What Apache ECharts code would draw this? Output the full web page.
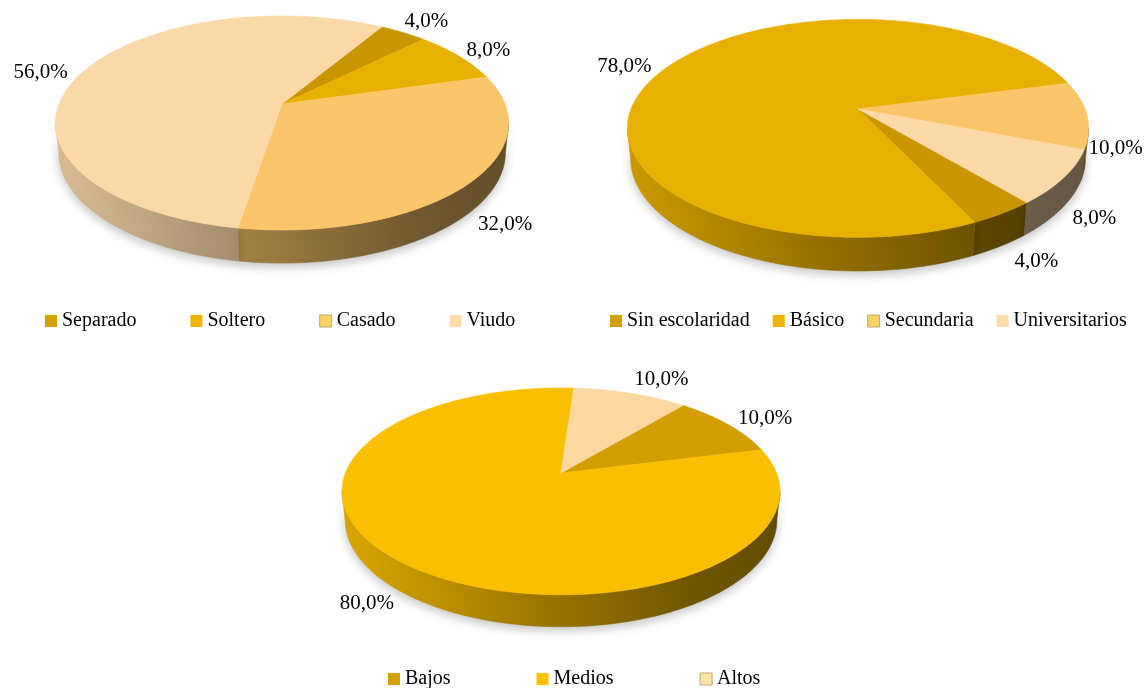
<!DOCTYPE html>
<html>
<head>
<meta charset="utf-8">
<script src="https://cdn.jsdelivr.net/npm/echarts@6/dist/echarts.min.js"></script>
<style>
  html, body { margin: 0; padding: 0; background: #fff; }
  #main { width: 1145px; height: 688px; }
</style>
</head>
<body>
<div id="main"></div>
<script>
// Estado civil (%)
const civilCategories = ['Separado', 'Soltero', 'Casado', 'Viudo'];
const civilValues = [4, 8, 32, 56];

// Escolaridad (%)
const schoolCategories = ['Sin escolaridad', 'Básico', 'Secundaria', 'Universitarios'];
const schoolValues = [4, 78, 10, 8];

// Ingresos (%)
const incomeCategories = ['Bajos', 'Medios', 'Altos'];
const incomeValues = [10, 80, 10];

// Camera used for the tilted 3D pies
const ELEV = 27.7 * Math.PI / 180;   // viewing elevation
const RHO = 0.2005;                  // pie radius / camera distance (perspective)
const THICK = 0.149;                 // pie thickness / radius
const FONT = '"Liberation Serif", "Times New Roman", serif';

// Layout and styling of each pie
const pies = [
  {
    cats: civilCategories, vals: civilValues,
    cx: 282, cy: 104, K: 223, start: 31,
    legendColors: ['#D4A000', '#F0B400', '#FFD466', '#FFDDAA'],
    topColors: ['#C99600', '#E8B000', '#FBC669', '#FAD8A8'],
    labelAt: [[39.3, 1.19], [60.9, 1.165], [139.2, 1.27], [285.8, 1.19]],
    legend: { left: 45, top: 311, gap: 54 },
    bordered: ['Casado']
  },
  {
    cats: schoolCategories, vals: schoolValues,
    cx: 858, cy: 109, K: 227, start: 140,
    legendColors: ['#D4A000', '#F0B400', '#FFD466', '#FFDDAA'],
    topColors: ['#C99600', '#E8B000', '#FBC669', '#FAD8A8'],
    labelAt: [[151.5, 1.31], [291.4, 1.19], [108.2, 1.12], [134.8, 1.24]],
    legend: { left: 610, top: 311, gap: 23 },
    bordered: ['Secundaria']
  },
  {
    cats: incomeCategories, vals: incomeValues,
    cx: 561, cy: 473, K: 215.5, start: 40,
    legendColors: ['#D4A000', '#FFC000', '#FFE4A8'],
    topColors: ['#D29E00', '#F9BF00', '#FAD8A0'],
    labelAt: [[60.1, 1.21], [214.7, 1.285], [26.5, 1.25]],
    legend: { left: 388, top: 669, gap: 86 },
    bordered: ['Altos']
  }
];

// Perspective projection of a point on the pie (angle clockwise from the back)
function project(p, thetaDeg, r, bottom) {
  const t = thetaDeg * Math.PI / 180;
  const X = r * RHO * Math.sin(t);
  const Z = r * RHO * Math.cos(t);
  const Y = bottom ? -THICK * RHO : 0;
  const d = 1 - Y * Math.sin(ELEV) + Z * Math.cos(ELEV);
  const ys = Y * Math.cos(ELEV) + Z * Math.sin(ELEV);
  const k = p.K / RHO;
  return [p.cx + k * X / d, p.cy - k * ys / d];
}

function shade(hex, f) {
  const n = parseInt(hex.slice(1), 16);
  const r = Math.round(((n >> 16) & 255) * f);
  const g = Math.round(((n >> 8) & 255) * f);
  const b = Math.round((n & 255) * f);
  return 'rgb(' + r + ',' + g + ',' + b + ')';
}

function arcPoints(p, a, b, bottom) {
  const pts = [];
  const steps = Math.max(2, Math.ceil(Math.abs(b - a) / 1));
  for (let s = 0; s <= steps; s++) {
    pts.push(project(p, a + (b - a) * s / steps, 1, bottom));
  }
  return pts;
}

function fmt(v) {
  return v.toFixed(1).replace('.', ',') + '%';
}

// Visible front part of the outer wall
const FRONT_FROM = Math.acos(-RHO * Math.cos(ELEV)) * 180 / Math.PI;
const FRONT_TO = 360 - FRONT_FROM;

function makeRender(p, idx) {
  return function (params, api) {
    const total = p.vals.reduce((s, v) => s + v, 0);
    let before = 0;
    for (let i = 0; i < idx; i++) before += p.vals[i];
    const value = api.value(0);
    const a = p.start + 360 * before / total;
    const b = a + 360 * value / total;
    const top = p.topColors[idx];
    const children = [];

    // outer wall, only where it faces the viewer
    const x0 = p.cx - p.K * 1.02, x1 = p.cx + p.K * 1.02;
    const grad = {
      type: 'linear', x: x0, y: 0, x2: x1, y2: 0, global: true,
      colorStops: [
        { offset: 0, color: shade(top, 0.88) },
        { offset: 0.45, color: shade(top, 0.63) },
        { offset: 0.8, color: shade(top, 0.45) },
        { offset: 1, color: shade(top, 0.40) }
      ]
    };
    [0, 360, -360].forEach(function (off) {
      const lo = Math.max(a, FRONT_FROM + off);
      const hi = Math.min(b, FRONT_TO + off);
      if (hi > lo) {
        const pts = arcPoints(p, lo, hi, false).concat(arcPoints(p, hi, lo, true));
        children.push({
          type: 'polygon', z2: 1,
          shape: { points: pts },
          style: {
            fill: grad, stroke: grad, lineWidth: 0.6,
            shadowBlur: 10, shadowColor: 'rgba(0,0,0,0.22)', shadowOffsetY: 4
          }
        });
      }
    });

    // top face of the slice
    const topPts = [[p.cx, p.cy]].concat(arcPoints(p, a, b, false));
    children.push({
      type: 'polygon', z2: 10,
      shape: { points: topPts },
      style: { fill: top, stroke: top, lineWidth: 0.6 }
    });

    // value label
    const lp = project(p, p.labelAt[idx][0], p.labelAt[idx][1], false);
    children.push({
      type: 'text', z2: 20,
      style: {
        text: fmt(value), x: lp[0], y: lp[1],
        fill: '#000', fontSize: 21, fontFamily: FONT,
        align: 'center', verticalAlign: 'middle'
      }
    });
    return { type: 'group', children: children };
  };
}

const series = [];
pies.forEach(function (p) {
  p.cats.forEach(function (name, i) {
    series.push({
      type: 'custom',
      name: name,
      coordinateSystem: 'none',
      itemStyle: { color: p.legendColors[i] },
      data: [p.vals[i]],
      renderItem: makeRender(p, i)
    });
  });
});

const legends = pies.map(function (p) {
  return {
    left: p.legend.left, top: p.legend.top,
    orient: 'horizontal', padding: 0,
    itemGap: p.legend.gap, itemWidth: 12, itemHeight: 12,
    icon: 'rect', selectedMode: false,
    textStyle: { fontFamily: FONT, fontSize: 20, color: '#000' },
    data: p.cats.map(function (name) {
      return p.bordered.indexOf(name) >= 0
        ? { name: name, itemStyle: { borderColor: '#b9a77a', borderWidth: 1 } }
        : { name: name };
    })
  };
});

const chart = echarts.init(document.getElementById('main'), null, { renderer: 'canvas' });
chart.setOption({
  backgroundColor: '#fff',
  animation: false,
  legend: legends,
  series: series
});
</script>
</body>
</html>
